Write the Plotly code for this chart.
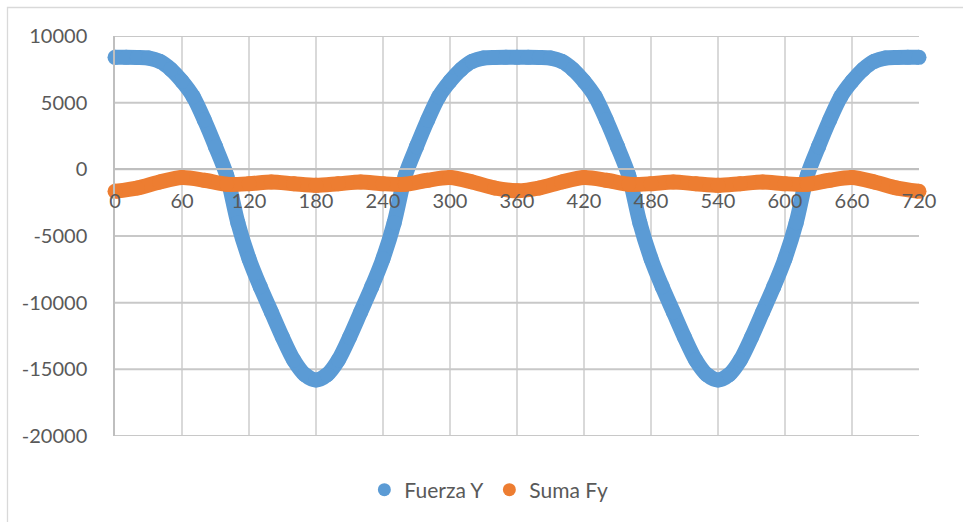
import plotly.graph_objects as go

# Crank angle (degrees) and vertical forces
angulo = [0, 10, 20, 30, 40, 50, 60, 70, 80, 90, 100, 110, 120, 130, 140, 150, 160, 170, 180,
          190, 200, 210, 220, 230, 240, 250, 260, 270, 280, 290, 300, 310, 320, 330, 340, 350, 360,
          370, 380, 390, 400, 410, 420, 430, 440, 450, 460, 470, 480, 490, 500, 510, 520, 530, 540,
          550, 560, 570, 580, 590, 600, 610, 620, 630, 640, 650, 660, 670, 680, 690, 700, 710, 720]

fuerza_y = [8400, 8400, 8390, 8350, 8100, 7500, 6600, 5450, 3700, 1700, -450, -4000, -6700, -8800,
            -10700, -12600, -14300, -15400, -15800,
            -15400, -14300, -12600, -10700, -8800, -6700, -4000, -450, 1700, 3700, 5450, 6600, 7500,
            8100, 8350, 8390, 8400, 8400,
            8400, 8390, 8350, 8100, 7500, 6600, 5450, 3700, 1700, -450, -4000, -6700, -8800,
            -10700, -12600, -14300, -15400, -15800,
            -15400, -14300, -12600, -10700, -8800, -6700, -4000, -450, 1700, 3700, 5450, 6600, 7500,
            8100, 8350, 8390, 8400, 8400]

angulo_suma = [0, 20, 40, 60, 80, 100, 120, 140, 160, 180, 200, 220, 240, 260, 280, 300, 320, 340, 360,
               380, 400, 420, 440, 460, 480, 500, 520, 540, 560, 580, 600, 620, 640, 660, 680, 700, 720]

suma_fy = [-1650, -1400, -950, -620, -820, -1120, -1080, -950, -1080, -1200, -1080, -950, -1080,
           -1120, -820, -620, -950, -1400, -1600,
           -1400, -950, -620, -820, -1120, -1080, -950, -1080, -1200, -1080, -950, -1080,
           -1120, -820, -620, -950, -1400, -1650]

x_ticks = [0, 60, 120, 180, 240, 300, 360, 420, 480, 540, 600, 660, 720]
y_ticks = [-20000, -15000, -10000, -5000, 0, 5000, 10000]

AZUL = "#5B9BD5"
NARANJA = "#ED7D31"
GRIS_TEXTO = "#595959"
GRIS_REJILLA = "#D9D9D9"
GRIS_REJILLA_H = "#C8C8C8"
GRIS_EJE = "#BFBFBF"
FUENTE = "Lato, Open Sans, sans-serif"

fig = go.Figure()

# Horizontal grid lines at each value tick, spanning the angle range
for v in y_ticks:
    fig.add_trace(go.Scatter(
        x=[x_ticks[0], x_ticks[-1]], y=[v, v], mode="lines",
        line=dict(color=GRIS_REJILLA_H, width=2),
        showlegend=False, hoverinfo="skip",
    ))

for xs, ys, color in [(angulo, fuerza_y, AZUL), (angulo_suma, suma_fy, NARANJA)]:
    fig.add_trace(go.Scatter(
        x=xs, y=ys, mode="lines+markers",
        line=dict(color=color, width=15, shape="spline", smoothing=0.8),
        marker=dict(color=color, size=15),
        showlegend=False, hoverinfo="skip", cliponaxis=False,
    ))

# Legend entries (circle markers only)
for nombre, color in [("Fuerza Y", AZUL), ("Suma Fy", NARANJA)]:
    fig.add_trace(go.Scatter(
        x=[None], y=[None], mode="markers", name=nombre,
        marker=dict(color=color, size=13),
    ))

marco = dict(type="rect", xref="paper", yref="paper",
             x0=(7.5 - 115) / 804, x1=1.2, y0=-0.4, y1=(436 - 7.5) / 400,
             line=dict(color=GRIS_REJILLA, width=1.3), layer="below")

fig.update_layout(
    width=963, height=522,
    margin=dict(l=115, r=44, t=36, b=86),
    paper_bgcolor="white", plot_bgcolor="rgba(0,0,0,0)",
    font=dict(family=FUENTE, size=20, color=GRIS_TEXTO),
    legend=dict(orientation="h", x=0.465, xanchor="center", y=-0.135, yanchor="middle",
                font=dict(size=21, color=GRIS_TEXTO), itemwidth=30,
                bgcolor="rgba(0,0,0,0)"),
    xaxis=dict(
        range=[0, 720], tickvals=x_ticks, ticktext=[str(v) for v in x_ticks],
        showgrid=True, gridcolor=GRIS_REJILLA, gridwidth=2,
        zeroline=False, showline=True, linecolor=GRIS_EJE, linewidth=1.5,
        anchor="free", position=2 / 3, ticks="", ticklabelstandoff=14,
        tickfont=dict(size=20, color=GRIS_TEXTO),
    ),
    yaxis=dict(
        range=[-20000, 10000], tickvals=y_ticks, ticktext=[str(v) for v in y_ticks],
        showgrid=False,
        zeroline=False, showline=True, linecolor=GRIS_EJE, linewidth=1.5,
        ticks="", ticklabelstandoff=22,
        tickfont=dict(size=20, color=GRIS_TEXTO),
    ),
    shapes=[marco],
)

fig.write_html("out.html")
